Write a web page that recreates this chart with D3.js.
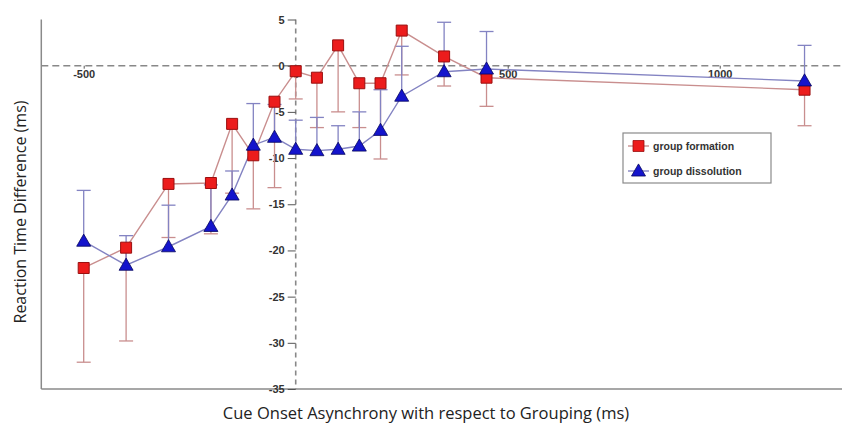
<!DOCTYPE html>
<html>
<head>
<meta charset="utf-8">
<script src="https://cdn.jsdelivr.net/npm/d3@7"></script>
<style>
  body { margin: 0; background: #fff; }
  svg { display: block; }
</style>
</head>
<body>
<svg width="842" height="423"></svg>
<script>
let width = 842;
let height = 423;

// data
let soa = [-500, -400, -300, -200, -150, -100, -50, 0, 50, 100, 150, 200, 250, 350, 450, 1200];
let formation     = [-21.9, -19.7, -12.8, -12.7, -6.3, -9.7, -3.9, -0.6, -1.3, 2.2, -1.9, -1.9, 3.8, 1.0, -1.3, -2.6];
let formationLow  = [-32.1, -29.8, -18.6, -18.2, -13.8, -15.5, -13.2, -3.6, -6.7, -5.0, -6.7, -10.1, -1.0, -2.2, -4.4, -6.5];
let dissolution   = [-19.0, -21.6, -19.6, -17.4, -14.0, -8.6, -7.75, -9.05, -9.2, -9.05, -8.7, -7.0, -3.3, -0.65, -0.36, -1.65];
let dissolutionHigh = [-13.5, -18.4, -15.1, -12.9, -11.4, -4.1, -4.2, -5.9, -5.6, -6.5, -5.0, -2.6, 2.1, 4.7, 3.7, 2.2];
let yTicks = [5, 0, -5, -10, -15, -20, -25, -30, -35];
let xTicks = [-500, 0, 500, 1000];
let seriesNames = ['group formation', 'group dissolution'];

let x = d3.scaleLinear().domain([-600, 1290]).range([41.3, 842.7]);
let y = d3.scaleLinear().domain([-35, 5]).range([389, 19.5]);

let svg = d3.select('svg');

let red = { line: '#c98e8e', fill: '#ec1c1c', stroke: '#9a0f0f' };
let blue = { line: '#8383c2', fill: '#1414cc', stroke: '#05055e' };

let formationData = soa.map((s, i) => ({ x: s, y: formation[i], e: formationLow[i] }));
let dissolutionData = soa.map((s, i) => ({ x: s, y: dissolution[i], e: dissolutionHigh[i] }));

// frame
svg.append('line')
  .attr('x1', x(-600)).attr('x2', x(-600))
  .attr('y1', y(5)).attr('y2', y(-35))
  .attr('stroke', '#8a8a8a').attr('stroke-width', 1.5);
svg.append('line')
  .attr('x1', x(-600)).attr('x2', width)
  .attr('y1', y(-35)).attr('y2', y(-35))
  .attr('stroke', '#8a8a8a').attr('stroke-width', 1.5);

// dashed zero lines
svg.append('line')
  .attr('x1', x(-600)).attr('x2', width)
  .attr('y1', y(0)).attr('y2', y(0))
  .attr('stroke', '#888').attr('stroke-width', 1.6)
  .attr('stroke-dasharray', '7,4');
svg.append('line')
  .attr('x1', x(0)).attr('x2', x(0))
  .attr('y1', y(5)).attr('y2', y(-35))
  .attr('stroke', '#888').attr('stroke-width', 1.6)
  .attr('stroke-dasharray', '5,4');

// y axis on x = 0
let yAxis = svg.append('g')
  .attr('transform', `translate(${x(0)},0)`)
  .call(d3.axisLeft(y).tickValues(yTicks).tickSize(8).tickPadding(3).tickFormat(d3.format('d')));
yAxis.select('.domain').remove();
yAxis.selectAll('line').attr('stroke', '#555');
yAxis.selectAll('text')
  .attr('font-family', 'Liberation Sans, Arial, sans-serif')
  .attr('font-size', 11).attr('font-weight', 'bold').attr('fill', '#333')
  .text(d => d < 0 ? '-' + Math.abs(d) : d);

// x axis on y = 0
let xAxis = svg.append('g')
  .attr('transform', `translate(0,${y(0)})`)
  .call(d3.axisBottom(x).tickValues(xTicks).tickSize(3).tickPadding(2).tickFormat(d3.format('d')));
xAxis.select('.domain').remove();
xAxis.selectAll('line').attr('stroke', '#555');
xAxis.selectAll('text')
  .attr('font-family', 'Liberation Sans, Arial, sans-serif')
  .attr('font-size', 11).attr('font-weight', 'bold').attr('fill', '#333')
  .text(d => d < 0 ? '-' + Math.abs(d) : d);

// error bars
function errorBars(data, col, cls) {
  let g = svg.append('g').attr('class', cls);
  g.selectAll('line.v').data(data).enter().append('line')
    .attr('x1', d => x(d.x)).attr('x2', d => x(d.x))
    .attr('y1', d => y(d.y)).attr('y2', d => y(d.e))
    .attr('stroke', col).attr('stroke-width', 1.3);
  g.selectAll('line.c').data(data).enter().append('line')
    .attr('x1', d => x(d.x) - 7).attr('x2', d => x(d.x) + 7)
    .attr('y1', d => y(d.e)).attr('y2', d => y(d.e))
    .attr('stroke', col).attr('stroke-width', 1.3);
}
errorBars(formationData, red.line, 'fbars');
errorBars(dissolutionData, blue.line, 'dbars');

// lines
let line = d3.line().x(d => x(d.x)).y(d => y(d.y));
svg.append('path').datum(formationData)
  .attr('d', line).attr('fill', 'none')
  .attr('stroke', red.line).attr('stroke-width', 1.4);
svg.append('path').datum(dissolutionData)
  .attr('d', line).attr('fill', 'none')
  .attr('stroke', blue.line).attr('stroke-width', 1.4);

// markers
let sq = d3.symbol().type(d3.symbolSquare).size(121);
let tri = d3.symbol().type(d3.symbolTriangle).size(85);
svg.append('g').selectAll('path').data(formationData).enter().append('path')
  .attr('d', sq)
  .attr('transform', d => `translate(${x(d.x)},${y(d.y)})`)
  .attr('fill', red.fill).attr('stroke', red.stroke).attr('stroke-width', 1);
svg.append('g').selectAll('path').data(dissolutionData).enter().append('path')
  .attr('d', tri)
  .attr('transform', d => `translate(${x(d.x)},${y(d.y) + 1})`)
  .attr('fill', blue.fill).attr('stroke', blue.stroke).attr('stroke-width', 0.8);

// legend
let legend = svg.append('g').attr('transform', 'translate(623,133)');
legend.append('rect')
  .attr('width', 148).attr('height', 50)
  .attr('fill', '#fff').attr('stroke', '#8a8a8a').attr('stroke-width', 1.2);
let items = legend.selectAll('g.item')
  .data(seriesNames)
  .enter()
    .append('g')
    .attr('class', 'item')
    .attr('transform', (d, i) => `translate(0,${13 + i * 25})`);
items.append('line')
  .attr('x1', 5).attr('x2', 26).attr('y1', 0).attr('y2', 0)
  .attr('stroke', (d, i) => i === 0 ? red.line : blue.line).attr('stroke-width', 1.4);
items.append('path')
  .attr('d', (d, i) => i === 0 ? sq() : tri())
  .attr('transform', (d, i) => `translate(15.5,${i === 0 ? 0 : 1})`)
  .attr('fill', (d, i) => i === 0 ? red.fill : blue.fill)
  .attr('stroke', (d, i) => i === 0 ? red.stroke : blue.stroke)
  .attr('stroke-width', 0.8);
items.append('text')
  .attr('x', 30).attr('y', 4)
  .attr('font-family', 'Liberation Sans, Arial, sans-serif')
  .attr('font-size', 10.5).attr('font-weight', 'bold').attr('fill', '#333')
  .text(d => d);

// axis titles
svg.append('text')
  .attr('x', 426).attr('y', 419)
  .attr('text-anchor', 'middle')
  .attr('font-family', 'Open Sans, sans-serif')
  .attr('font-size', 16.5).attr('fill', '#222')
  .text('Cue Onset Asynchrony with respect to Grouping (ms)');
svg.append('text')
  .attr('transform', 'translate(26,212) rotate(-90)')
  .attr('text-anchor', 'middle')
  .attr('font-family', 'Open Sans, sans-serif')
  .attr('font-size', 16).attr('fill', '#222')
  .text('Reaction Time Difference (ms)');
</script>
</body>
</html>
